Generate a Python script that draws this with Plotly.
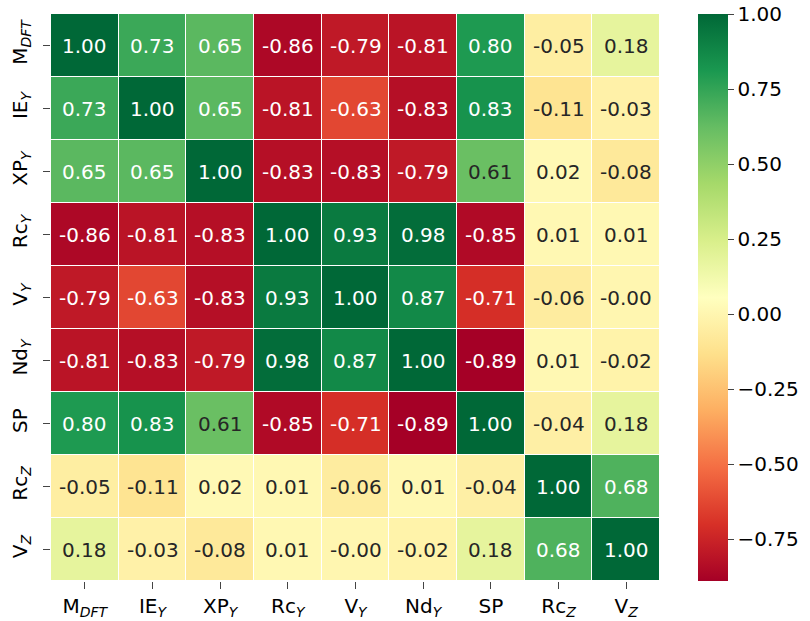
import plotly.graph_objects as go

labels = ['M<sub><i>DFT</i></sub>', 'IE<sub><i>Y</i></sub>', 'XP<sub><i>Y</i></sub>',
          'Rc<sub><i>Y</i></sub>', 'V<sub><i>Y</i></sub>', 'Nd<sub><i>Y</i></sub>',
          'SP', 'Rc<sub><i>Z</i></sub>', 'V<sub><i>Z</i></sub>']

row_mdft = [1.00, 0.73, 0.65, -0.86, -0.79, -0.81, 0.80, -0.05, 0.18]
row_iey = [0.73, 1.00, 0.65, -0.81, -0.63, -0.83, 0.83, -0.11, -0.03]
row_xpy = [0.65, 0.65, 1.00, -0.83, -0.83, -0.79, 0.61, 0.02, -0.08]
row_rcy = [-0.86, -0.81, -0.83, 1.00, 0.93, 0.98, -0.85, 0.01, 0.01]
row_vy = [-0.79, -0.63, -0.83, 0.93, 1.00, 0.87, -0.71, -0.06, -0.0]
row_ndy = [-0.81, -0.83, -0.79, 0.98, 0.87, 1.00, -0.89, 0.01, -0.02]
row_sp = [0.80, 0.83, 0.61, -0.85, -0.71, -0.89, 1.00, -0.04, 0.18]
row_rcz = [-0.05, -0.11, 0.02, 0.01, -0.06, 0.01, -0.04, 1.00, 0.68]
row_vz = [0.18, -0.03, -0.08, 0.01, -0.0, -0.02, 0.18, 0.68, 1.00]

z = [row_mdft, row_iey, row_xpy, row_rcy, row_vy, row_ndy, row_sp, row_rcz, row_vz]

zmin, zmax = -0.89, 1.0
cbar_ticks = [-0.75, -0.5, -0.25, 0, 0.25, 0.5, 0.75, 1.0]

# matplotlib RdYlGn
cols = ['#a50026', '#d73027', '#f46d43', '#fdae61', '#fee08b', '#ffffbf',
        '#d9ef8b', '#a6d96a', '#66bd63', '#1a9850', '#006837']
scale = [[i / 10, c] for i, c in enumerate(cols)]


def rgb(h):
    return [int(h[i:i + 2], 16) / 255 for i in (1, 3, 5)]


def cell_color(v):
    t = (v - zmin) / (zmax - zmin)
    t = min(max(t, 0), 1) * 10
    i = min(int(t), 9)
    f = t - i
    a, b = rgb(cols[i]), rgb(cols[i + 1])
    return [a[k] + (b[k] - a[k]) * f for k in range(3)]


def lum(c):
    c = [x / 12.92 if x <= 0.03928 else ((x + 0.055) / 1.055) ** 2.4 for x in c]
    return 0.2126 * c[0] + 0.7152 * c[1] + 0.0722 * c[2]


fig = go.Figure(go.Heatmap(
    z=z, x=labels, y=labels,
    colorscale=scale, zmin=zmin, zmax=zmax,
    xgap=1, ygap=1,
    colorbar=dict(
        x=1.062, xanchor='left', y=1, yanchor='top', xpad=0,
        thickness=30, len=1, lenmode='fraction', ypad=0,
        outlinewidth=0,
        tickvals=cbar_ticks, ticklabeloverflow='allow',
        tickformat='.2f', ticks='outside', ticklen=6,
        tickfont=dict(size=20, color='#000'),
    ),
))

for i, row in enumerate(z):
    for j, v in enumerate(row):
        fc = '#262626' if lum(cell_color(v)) > 0.408 else 'white'
        fig.add_annotation(x=labels[j], y=labels[i], text='{:.2f}'.format(v),
                           showarrow=False, font=dict(size=20, color=fc))

fig.update_layout(
    width=810, height=621,
    margin=dict(l=51, r=150, t=14, b=40, autoexpand=False),
    plot_bgcolor='white', paper_bgcolor='white',
    font=dict(family='DejaVu Sans', size=20, color='#000'),
    xaxis=dict(ticks='outside', ticklen=7, showgrid=False, zeroline=False),
    yaxis=dict(ticks='outside', ticklen=7, showgrid=False, zeroline=False,
               autorange='reversed', tickangle=-90, ticklabelstandoff=8),
)

# drop the page's default body margin so the figure fills the window
fig.write_html('out.html', config={'displayModeBar': False},
               post_script="document.body.style.margin='0';")
